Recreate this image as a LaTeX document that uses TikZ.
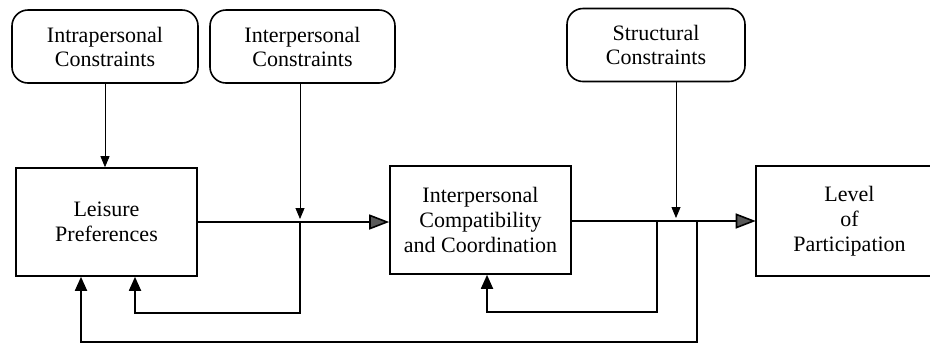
\documentclass[tikz,border=0pt]{standalone}
\usepackage{fontspec}
\setmainfont{Liberation Serif}
\usetikzlibrary{arrows.meta, calc}
\tikzset{
  constraint/.style={draw, rounded corners=8pt, line width=0.8pt, minimum height=36.5pt,
    align=center, inner sep=0pt, font=\fontsize{11}{12}\selectfont},
  stage/.style={draw, line width=0.8pt, minimum width=90.5pt, minimum height=54pt,
    align=center, inner sep=0pt, font=\fontsize{11}{12.5}\selectfont},
  flow/.style={line width=0.8pt, -{Triangle[width=7.5pt,length=10pt,fill=gray!70!black]}},
  push/.style={line width=0.4pt, -{Triangle[width=4.5pt,length=5.5pt]}},
  back/.style={line width=0.9pt, -{Triangle[width=6pt,length=7pt]}}
}
\begin{document}
\begin{tikzpicture}[x=0.5pt, y=-0.5pt]
    \useasboundingbox (0,0) rectangle (930,344);
    \clip (0,0) rectangle (930,344);

    % constraints on top
    \node[constraint, minimum width=93pt] (intra) at (105,46.5) {Intrapersonal\\Constraints};
    \node[constraint, minimum width=92.5pt] (inter) at (302.5,46.5) {Interpersonal\\Constraints};
    \node[constraint, minimum width=89pt] (struct) at (656,45) {Structural\\Constraints};

    % the three stages
    \node[stage] (leisure) at (106.5,222) {Leisure\\Preferences};
    \node[stage] (compat) at (480.5,220) {Interpersonal\\Compatibility\\and Coordination};
    \node[stage, draw=none, minimum width=93pt] (level) at (849.5,221) {Level\\of\\Participation};
    % the page cuts this box on the right
    \draw[line width=0.8pt] ($(level.north east)+(20,0)$) -- (level.north west)
        -- (level.south west) -- ($(level.south east)+(20,0)$);

    % junctions on the main line
    \coordinate (j1) at (300,222);
    \coordinate (j2) at (657,221);
    \coordinate (j3) at (676,221);
    \coordinate (j4) at (697,221);
    \coordinate (fb1) at (135,313);
    \coordinate (fb2) at (487,312);
    \coordinate (fb3) at (81,342);

    % main flow
    \draw[flow] (leisure.east |- j1) -- (compat.west |- j1);
    \draw[flow] (compat.east |- j2) -- (level.west |- j2);

    % constraints acting
    \draw[push] (intra.south) -- (intra.south |- leisure.north);
    \draw[push] (j1 |- inter.south) -- ($(j1)+(0,-3)$);
    \draw[push] (j3 |- struct.south) -- ($(j3)+(0,-3)$);

    % feedback loops
    \draw[back] (j1) |- (fb1) -- (fb1 |- leisure.south);
    \draw[back] (j2) |- (fb2) -- (fb2 |- compat.south);
    \draw[back] (j4) |- (fb3) -- (fb3 |- leisure.south);
\end{tikzpicture}
\end{document}
